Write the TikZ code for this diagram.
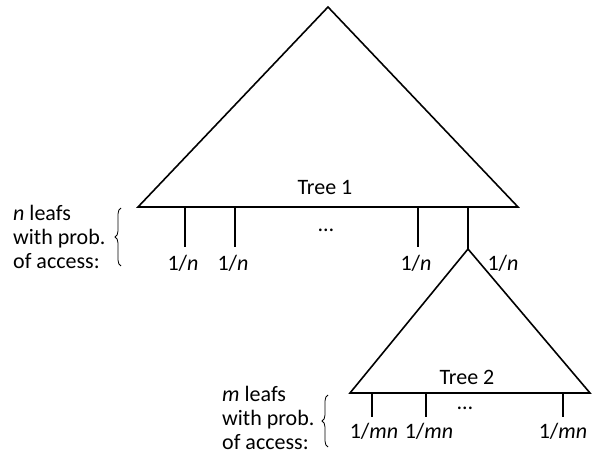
\documentclass[tikz,border=0pt]{standalone}
\usepackage{fontspec}
\setmainfont{Carlito}
\usetikzlibrary{decorations.pathreplacing}
\begin{document}
\begin{tikzpicture}[x=1pt,y=-1pt,
  edge/.style={line width=1.6pt, line join=miter},
  lbl/.style={inner sep=0pt, font=\fontsize{22}{24}\selectfont},
  side/.style={lbl, align=left, anchor=west},
  brc/.style={line width=0.8pt, decorate, decoration={brace, amplitude=6pt, aspect=0.5}}]
\useasboundingbox (0,0) rectangle (600,454);
% Tree 1
\coordinate (a1) at (328,7);
\coordinate (l1) at (138,207);
\coordinate (r1) at (518,207);
\draw[edge] (l1) -- (a1) -- (r1) -- cycle;
\node[lbl] (t1) at (325,187) {Tree 1};
\foreach \i/\x in {1/185,2/235,3/418}{
  \coordinate (b\i) at (\x,207);
  \coordinate (e\i) at (\x,247);
  \draw[edge] (b\i) -- (e\i);
  \node[lbl] (n\i) at (\x-2,263) {1/\textit{n}};
}
\coordinate (b4) at (468,207);
\coordinate (a2) at (468,249);
\draw[edge] (b4) -- (a2);
\node[lbl] (n4) at (503,263) {1/\textit{n}};
\node[lbl] (d1) at (326,230) {…};
% Tree 2
\coordinate (l2) at (350,393);
\coordinate (r2) at (590,393);
\draw[edge] (l2) -- (a2) -- (r2) -- cycle;
\node[lbl] (t2) at (467,377) {Tree 2};
\foreach \i/\x in {5/372,6/426,7/563}{
  \coordinate (b\i) at (\x,393);
  \coordinate (e\i) at (\x,417);
  \draw[edge] (b\i) -- (e\i);
}
\node[lbl] (m1) at (374,431) {1/\textit{mn}};
\node[lbl] (m2) at (429,431) {1/\textit{mn}};
\node[lbl] (m3) at (563,431) {1/\textit{mn}};
\node[lbl] (d2) at (465,408) {…};
% side labels
\node[side] (s1) at (13,237) {\textit{n} leafs\\with prob.\\of access:};
\coordinate (bt1) at (121,208);
\coordinate (bb1) at (121,266);
\draw[brc] (bb1) -- (bt1);
\node[side] (s2) at (222,418) {\textit{m} leafs\\with prob.\\of access:};
\coordinate (bt2) at (328,395);
\coordinate (bb2) at (328,447);
\draw[brc] (bb2) -- (bt2);
\end{tikzpicture}
\end{document}
